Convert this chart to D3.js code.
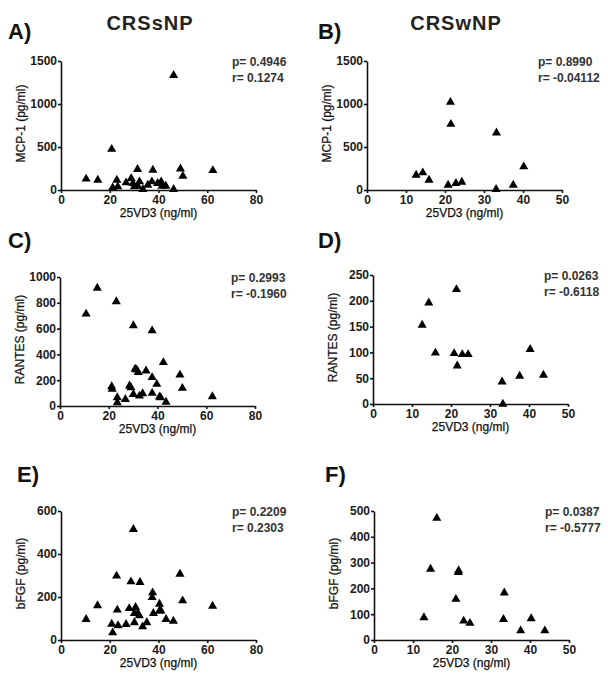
<!DOCTYPE html>
<html>
<head>
<meta charset="utf-8">
<script src="https://cdn.jsdelivr.net/npm/d3@7"></script>
<style>
  body { margin: 0; background: #fff; }
  text { font-family: Arial, "Liberation Sans", sans-serif; }
</style>
</head>
<body>
<div id="chart"></div>
<script>
// CRSsNP (left column) - 25VD3 vs cytokine
var mcpSnpX = [46.2, 20.8, 10.3, 15.1, 49, 50, 62.3, 31.4, 37.7, 46.2, 22.9, 21.2, 23.3, 26.7, 28.8, 29.5, 30.1, 32.2, 31.5, 33.6, 35.6, 37.3, 39.6, 41.1, 41.4, 43]
var mcpSnpY = [1334, 475, 128, 116, 247, 162, 228, 240, 232, 8, 116, 27, 39, 85, 135, 77, 39, 97, 46, 8, 58, 97, 77, 97, 46, 46]

var rantesSnpX = [10.7, 15.3, 23.1, 30.1, 37.8, 42.4, 49.2, 50.2, 62.5, 43.5, 21.2, 21.4, 23.5, 23.5, 26.8, 28.5, 29.1, 30.1, 30.8, 31.5, 32.1, 32.6, 33.9, 35.3, 37.8, 37.8, 39.7, 40.8, 41.3]
var rantesSnpY = [714, 914, 810, 623, 584, 338, 241, 138, 73, 31, 151, 130, 65, 26, 52, 156, 143, 91, 286, 280, 260, 78, 96, 273, 221, 99, 169, 70, 65]

var bfgfSnpX = [10.3, 15, 29.7, 22.8, 28.7, 32.4, 48.8, 49.9, 62.2, 37.6, 37.4, 23.1, 20.8, 21.2, 23.4, 26.7, 28, 30.1, 30.6, 30.1, 31.5, 32.1, 33.5, 35.2, 37.9, 40.4, 40.4, 41, 43.1, 46.1]
var bfgfSnpY = [96, 160, 515, 298, 271, 268, 307, 183, 158, 220, 198, 140, 74, 34, 67, 73, 147, 124, 152, 81, 124, 113, 62, 81, 124, 167, 136, 136, 96, 88]

// CRSwNP (right column)
var mcpWnpX = [12.6, 14.3, 15.9, 20.8, 21.4, 21.5, 22.8, 24.3, 33.2, 33.1, 37.5, 40.2]
var mcpWnpY = [174, 201, 116, 58, 1021, 765, 77, 93, 665, 8, 58, 271]

var rantesWnpX = [12.6, 14.3, 16, 20.8, 21.4, 21.6, 22.9, 24.4, 33.1, 33.3, 37.6, 40.3, 43.7]
var rantesWnpY = [153, 196, 99, 98, 222, 74, 96, 96, 43, 0, 54, 106, 56]

var bfgfWnpX = [12.8, 14.5, 16.1, 21, 21.7, 21.6, 23, 24.6, 33.4, 33.2, 37.6, 40.3, 43.8]
var bfgfWnpY = [87, 275, 472, 158, 269, 262, 74, 65, 183, 80, 36, 83, 36]

var xTicksSnp = [0, 20, 40, 60, 80]
var xTicksWnp = [0, 10, 20, 30, 40, 50]
var yTicksMcp = [0, 500, 1000, 1500]
var yTicksRantesSnp = [0, 200, 400, 600, 800, 1000]
var yTicksRantesWnp = [0, 50, 100, 150, 200, 250]
var yTicksBfgfSnp = [0, 200, 400, 600]
var yTicksBfgfWnp = [0, 100, 200, 300, 400, 500]

var columnTitles = ['CRSsNP', 'CRSwNP']
var panelLetters = ['A)', 'B)', 'C)', 'D)', 'E)', 'F)']
var pValues = ['0.4946', '0.8990', '0.2993', '0.0263', '0.2209', '0.0387']
var rValues = ['0.1274', '-0.04112', '-0.1960', '-0.6118', '0.2303', '-0.5777']
var yLabels = ['MCP-1 (pg/ml)', 'MCP-1 (pg/ml)', 'RANTES (pg/ml)', 'RANTES (pg/ml)', 'bFGF (pg/ml)', 'bFGF (pg/ml)']

var W = 608, H = 678
var pw = 195, ph = 129

var panels = [
  { left: 61, top: 61, xs: mcpSnpX, ys: mcpSnpY, xt: xTicksSnp, yt: yTicksMcp, lab: [8, 39] },
  { left: 367, top: 61, xs: mcpWnpX, ys: mcpWnpY, xt: xTicksWnp, yt: yTicksMcp, lab: [318, 39] },
  { left: 60, top: 277, xs: rantesSnpX, ys: rantesSnpY, xt: xTicksSnp, yt: yTicksRantesSnp, lab: [8, 248] },
  { left: 373, top: 275, xs: rantesWnpX, ys: rantesWnpY, xt: xTicksWnp, yt: yTicksRantesWnp, lab: [318, 248] },
  { left: 61, top: 511, xs: bfgfSnpX, ys: bfgfSnpY, xt: xTicksSnp, yt: yTicksBfgfSnp, lab: [17, 482] },
  { left: 374, top: 511, xs: bfgfWnpX, ys: bfgfWnpY, xt: xTicksWnp, yt: yTicksBfgfWnp, lab: [325, 482] }
]

var svg = d3.select('#chart')
  .append('svg')
  .attr('width', W)
  .attr('height', H)

svg.selectAll('.coltitle')
  .data(columnTitles)
  .enter()
  .append('text')
  .attr('class', 'coltitle')
  .attr('x', (d, i) => i === 0 ? 150 : 456)
  .attr('y', 30)
  .attr('text-anchor', 'middle')
  .style('font-size', '20px')
  .style('font-weight', 'bold')
  .style('letter-spacing', '1px')
  .style('fill', '#222')
  .text(d => d)

var tri = d3.symbol().type(d3.symbolTriangle).size(36)

panels.forEach(function(p, i) {
  var xMax = p.xt[p.xt.length - 1]
  var yMax = p.yt[p.yt.length - 1]

  var x = d3.scaleLinear().domain([0, xMax]).range([0, pw])
  var y = d3.scaleLinear().domain([0, yMax]).range([ph, 0])

  var g = svg.append('g')
    .attr('transform', 'translate(' + p.left + ',' + p.top + ')')

  // panel letter
  svg.append('text')
    .attr('x', p.lab[0])
    .attr('y', p.lab[1])
    .style('font-size', '22px')
    .style('font-weight', 'bold')
    .style('fill', '#111')
    .text(panelLetters[i])

  g.append('g')
    .attr('transform', 'translate(0,' + ph + ')')
    .call(d3.axisBottom(x).tickValues(p.xt).tickFormat(d3.format('d'))
      .tickSize(3).tickPadding(2).tickSizeOuter(0))

  g.append('g')
    .call(d3.axisLeft(y).tickValues(p.yt).tickFormat(d3.format('d'))
      .tickSize(3).tickPadding(1).tickSizeOuter(0))

  g.selectAll('.domain, .tick line')
    .attr('stroke', '#111')
    .attr('stroke-width', 1.6)

  g.selectAll('.tick text')
    .style('font-family', 'Arial, "Liberation Sans", sans-serif')
    .style('font-size', '12px')
    .style('font-weight', 'bold')
    .style('fill', '#1a1a1a')

  // axis titles
  g.append('text')
    .attr('x', pw / 2)
    .attr('y', ph + 27)
    .attr('text-anchor', 'middle')
    .style('font-size', '12px')
    .style('fill', '#111')
    .style('stroke', '#111')
    .style('stroke-width', 0.25)
    .text('25VD3 (ng/ml)')

  g.append('text')
    .attr('transform', 'translate(-36,' + (ph / 2 - 2) + ') rotate(-90)')
    .attr('text-anchor', 'middle')
    .style('font-size', '12px')
    .style('fill', '#111')
    .style('stroke', '#111')
    .style('stroke-width', 0.25)
    .text(yLabels[i])

  // stats
  g.append('text')
    .attr('x', pw - 24)
    .attr('y', 5)
    .style('font-size', '12px')
    .style('font-weight', 'bold')
    .style('fill', '#333')
    .text('p= ' + pValues[i])

  g.append('text')
    .attr('x', pw - 24)
    .attr('y', 21)
    .style('font-size', '12px')
    .style('font-weight', 'bold')
    .style('fill', '#333')
    .text('r= ' + rValues[i])

  g.selectAll('.pt')
    .data(p.xs.map((d, j) => [d, p.ys[j]]))
    .enter()
    .append('path')
    .attr('class', 'pt')
    .attr('d', tri)
    .attr('transform', d => 'translate(' + x(d[0]) + ',' + y(d[1]) + ')')
    .attr('fill', '#000')
})
</script>
</body>
</html>
